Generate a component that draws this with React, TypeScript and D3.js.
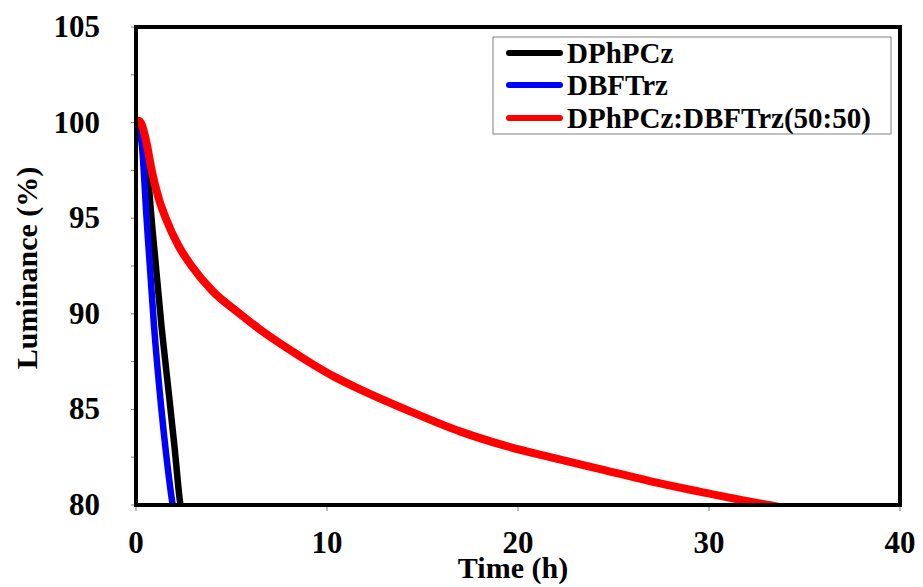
import React from "react";
import * as d3 from "d3";

const seriesNames = ["DPhPCz", "DBFTrz", "DPhPCz:DBFTrz(50:50)"];
const seriesColors = ["#000000", "#0000ff", "#ff0000"];

// time (h)
const blackTime = [0, 0.15, 0.3, 0.47, 0.82, 1.34, 1.7, 2.02, 2.3, 2.4];
const blackLum = [100, 100.05, 99.7, 98.9, 94.9, 89.3, 86.0, 83.0, 80.2, 79.5];

const blueTime = [0, 0.1, 0.3, 0.56, 0.94, 1.3, 1.62, 1.92, 2.0];
const blueLum = [100, 99.8, 98.9, 94.9, 89.4, 85.3, 82.3, 80.0, 79.5];

const redTime = [0, 0.15, 0.3, 0.56, 0.82, 1.2, 1.6, 2.2, 2.91, 4.0, 5.44, 6.6, 8.0, 9.11, 10.4, 11.73, 14.35, 16.96, 19.5, 21.68, 24.3, 26.9, 29.5, 32.15, 33.4, 34.5];
const redLum = [100, 100.1, 99.9, 98.9, 97.5, 96.0, 94.9, 93.6, 92.5, 91.2, 90.0, 89.1, 88.15, 87.45, 86.7, 86.05, 84.9, 83.85, 83.05, 82.5, 81.88, 81.25, 80.7, 80.17, 79.95, 79.7];

const xTicks = [0, 10, 20, 30, 40];
const yMajorTicks = [80, 85, 90, 95, 100, 105];
const yMinorTicks = [80, 82.5, 85, 87.5, 90, 92.5, 95, 97.5, 100, 102.5, 105];

const xTitle = "Time (h)";
const yTitle = "Luminance (%)";

const FONT = "Liberation Serif";

export default function App() {
  const W = 923, H = 587;
  const L = 136, R = 900, T = 27, B = 505;
  const x = d3.scaleLinear().domain([0, 40]).range([L, R]);
  const y = d3.scaleLinear().domain([80, 105]).range([B, T]);

  const seriesTimes = [blackTime, blueTime, redTime];
  const seriesLums = [blackLum, blueLum, redLum];

  const line = d3
    .line<[number, number]>()
    .x((d) => x(d[0]))
    .y((d) => y(d[1]))
    .curve(d3.curveMonotoneX);

  const paths = seriesTimes.map((ts, i) =>
    line(ts.map((t, j) => [t, seriesLums[i][j]] as [number, number]))
  );

  const legendX = 493, legendY = 37, legendW = 398, legendH = 97;
  const rowY = [53, 85, 118];
  const txt = { fontFamily: FONT, fontWeight: 700 as const };

  return (
    <svg
      width={W}
      height={H}
      style={{ position: "absolute", left: 0, top: 0, background: "#fff" }}
    >
      <defs>
        <clipPath id="plotClip">
          <rect x={L} y={T} width={R - L} height={B - T} />
        </clipPath>
      </defs>
      <rect x={0} y={0} width={W} height={H} fill="#fff" />

      {yMinorTicks.map((v) => (
        <line key={"yt" + v} x1={L - 5} x2={L} y1={y(v)} y2={y(v)} stroke="#7f7f7f" strokeWidth={1} />
      ))}
      {yMajorTicks.map((v) => (
        <text key={"yl" + v} x={100} y={y(v) + 10} textAnchor="end" style={{ ...txt, fontSize: 31 }} fill="#000">
          {v}
        </text>
      ))}

      {xTicks.map((v) => (
        <line key={"xt" + v} x1={x(v)} x2={x(v)} y1={B} y2={B + 6} stroke="#7f7f7f" strokeWidth={1} />
      ))}
      {xTicks.map((v) => (
        <text key={"xl" + v} x={x(v)} y={553} textAnchor="middle" style={{ ...txt, fontSize: 31 }} fill="#000">
          {v}
        </text>
      ))}

      <g clipPath="url(#plotClip)">
        {paths.map((p, i) => (
          <path
            key={"s" + i}
            d={p || ""}
            fill="none"
            stroke={seriesColors[i]}
            strokeWidth={i === 2 ? 8 : 6.5}
            strokeLinejoin="round"
            strokeLinecap="round"
          />
        ))}
      </g>

      <rect x={L} y={T} width={R - L} height={B - T} fill="none" stroke="#000" strokeWidth={4} />

      <text x={513} y={578} textAnchor="middle" style={{ ...txt, fontSize: 30 }} fill="#000">
        {xTitle}
      </text>
      <text transform={`translate(37, ${268}) rotate(-90)`} textAnchor="middle" style={{ ...txt, fontSize: 30 }} fill="#000">
        {yTitle}
      </text>

      <rect x={legendX} y={legendY} width={legendW} height={legendH} fill="#fff" stroke="#808080" strokeWidth={1} />
      {seriesNames.map((name, i) => (
        <g key={"lg" + i}>
          <line x1={509} x2={560} y1={rowY[i]} y2={rowY[i]} stroke={seriesColors[i]} strokeWidth={6} strokeLinecap="round" />
          <text x={567} y={rowY[i] + 10} style={{ ...txt, fontSize: 29 }} fill="#000">
            {name}
          </text>
        </g>
      ))}
    </svg>
  );
}
